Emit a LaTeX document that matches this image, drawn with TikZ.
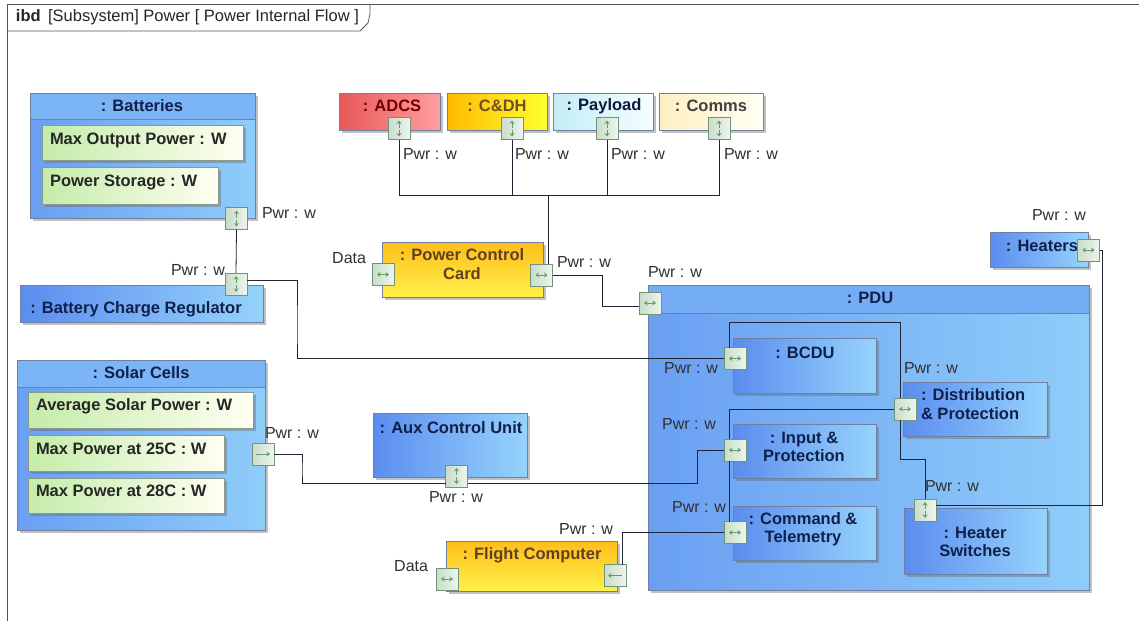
\documentclass[tikz,border=0pt]{standalone}
\usepackage{fontspec}
\setmainfont{Liberation Sans}
\usetikzlibrary{shadows,arrows.meta,calc}
\definecolor{blueL}{HTML}{5B8DEF}
\definecolor{blueR}{HTML}{96D3FC}
\definecolor{contL}{HTML}{6A9FF2}
\definecolor{contR}{HTML}{8FCDFA}
\definecolor{hdrc}{HTML}{7BB5F6}
\definecolor{bordc}{HTML}{6F7F9F}
\definecolor{navyc}{HTML}{10204A}
\definecolor{lblc}{HTML}{303030}
\definecolor{wirec}{HTML}{1E2535}
\definecolor{portd}{HTML}{6F9478}
\definecolor{portL}{HTML}{C9DCC9}
\definecolor{portR}{HTML}{EEF5EE}
\definecolor{iconc}{HTML}{5F9F6A}
\definecolor{propL}{HTML}{C4ECAA}
\definecolor{propR}{HTML}{FFFFF2}
\definecolor{propd}{HTML}{8A9A8A}
\definecolor{adcsL}{HTML}{E85858}
\definecolor{adcsR}{HTML}{FF9E9E}
\definecolor{cdhL}{HTML}{FFBB00}
\definecolor{cdhR}{HTML}{FFFF30}
\definecolor{payL}{HTML}{C4ECF6}
\definecolor{payR}{HTML}{F6FFFF}
\definecolor{comL}{HTML}{FFEFC0}
\definecolor{comR}{HTML}{FFFFF6}
\definecolor{ylwT}{HTML}{FFBE1A}
\definecolor{ylwB}{HTML}{FFF04A}
\definecolor{framec}{HTML}{555555}
\newcommand\hicon[1]{\draw[picon,{Stealth[length=3.5pt,width=5pt]}-{Stealth[length=3.5pt,width=5pt]}] ([xshift=-6pt]#1.center) -- ([xshift=6pt]#1.center);}
\newcommand\vicon[1]{\draw[picon,-{Stealth[length=3.5pt,width=5pt]}] ([yshift=1pt]#1.center) -- ([yshift=8pt]#1.center);\draw[picon,-{Stealth[length=3.5pt,width=5pt]}] ([yshift=-1pt]#1.center) -- ([yshift=-8pt]#1.center);}
\newcommand\ricon[1]{\draw[picon,-{Stealth[length=3.5pt,width=5pt]}] ([xshift=-7pt]#1.center) -- ([xshift=7pt]#1.center);}
\newcommand\licon[1]{\draw[picon,-{Stealth[length=3.5pt,width=5pt]}] ([xshift=7pt]#1.center) -- ([xshift=-7pt]#1.center);}
\begin{document}
\begin{tikzpicture}[x=1pt,y=-1pt,
  every node/.style={inner sep=0pt,outer sep=0pt},
  shad/.style={drop shadow={shadow xshift=3pt,shadow yshift=-3pt,fill=black!60,opacity=0.4}},
  basebox/.style={shad,draw=bordc,line width=0.6pt,anchor=north west},
  partbox/.style={basebox,left color=blueL,right color=blueR},
  cont/.style={basebox,left color=contL,right color=contR},
  prop/.style={basebox,draw=propd,left color=propL,right color=propR},
  port/.style={draw=portd,line width=0.7pt,left color=portL,right color=portR,minimum width=22,minimum height=22,anchor=center},
  picon/.style={draw=iconc,line width=0.9pt},
  ttl/.style={font=\fontsize{16.5}{18.5}\selectfont\bfseries,text=navyc,align=center},
  ptxt/.style={font=\fontsize{16.5}{18.5}\selectfont\bfseries,text=black!85,anchor=west},
  lbl/.style={font=\fontsize{16}{18}\selectfont,text=lblc},
  wire/.style={draw=wirec,line width=0.8pt},
]
\useasboundingbox (0,0) rectangle (1139,621);
\fill[white] (0,0) rectangle (1139,621);
% frame
\draw[framec,line width=0.8pt] (7,621) -- (7,4) -- (1139,4);
\draw[framec,line width=0.8pt] (7,31) -- (360,31) -- (368,23) -- (370,14) -- (370,4);
\node[anchor=west,font=\fontsize{16.5}{19}\selectfont,text=black!85] (title) at (16,17) {\textbf{ibd}\, [Subsystem] Power [ Power Internal Flow ]};

% Batteries
\node[cont,minimum width=225,minimum height=125] (bat) at (30,93) {};
\path[fill=hdrc,draw=bordc,line width=0.6pt] (30,93) rectangle (255,119);
\node[ttl] (batt) at (142,106) {: Batteries};
\node[prop,minimum width=201,minimum height=35] (mop) at (42,125) {};
\node[ptxt] (mopt) at (50,140) {Max Output Power : W};
\node[prop,minimum width=176,minimum height=37] (pst) at (42,167) {};
\node[ptxt] (pstt) at (50,182) {Power Storage : W};

% Battery Charge Regulator
\node[partbox,minimum width=243,minimum height=37] (bcr) at (20,285) {};
\node[ttl] (bcrt) at (136,309) {: Battery Charge Regulator};

% Solar cells
\node[cont,minimum width=248,minimum height=170] (sol) at (17,360) {};
\path[fill=hdrc,draw=bordc,line width=0.6pt] (17,360) rectangle (265,387);
\node[ttl] (solt) at (141,373) {: Solar Cells};
\node[prop,minimum width=225,minimum height=36] (asp) at (28,392) {};
\node[ptxt] (aspt) at (36,406) {Average Solar Power : W};
\node[prop,minimum width=196,minimum height=36] (mp25) at (28,435) {};
\node[ptxt] (mp25t) at (36,449) {Max Power at 25C : W};
\node[prop,minimum width=196,minimum height=35] (mp28) at (28,478) {};
\node[ptxt] (mp28t) at (36,491) {Max Power at 28C : W};

% top subsystems
\node[basebox,left color=adcsL,right color=adcsR,minimum width=101,minimum height=37] (adcs) at (339,93) {};
\node[ttl,text=red!45!black] (adcst) at (392,106) {: ADCS};
\node[basebox,left color=cdhL,right color=cdhR,minimum width=100,minimum height=37] (cdh) at (447,93) {};
\node[ttl,text=brown!60!black] (cdht) at (497,106) {: C\&DH};
\node[basebox,left color=payL,right color=payR,minimum width=100,minimum height=37] (pay) at (553,93) {};
\node[ttl,text=navyc!80!black] (payt) at (604,106) {: Payload};
\node[basebox,left color=comL,right color=comR,minimum width=104,minimum height=37] (com) at (659,93) {};
\node[ttl,text=black!75] (comt) at (711,106) {: Comms};

% Power Control Card
\node[basebox,top color=ylwT,bottom color=ylwB,minimum width=161,minimum height=55] (pcc) at (382,242) {};
\node[ttl,text=brown!50!black] (pcct) at (462,264) {: Power Control\\Card};

% Aux control unit
\node[partbox,minimum width=154,minimum height=64] (aux) at (373,413) {};
\node[ttl] (auxt) at (451,428) {: Aux Control Unit};

% Flight computer
\node[basebox,top color=ylwT,bottom color=ylwB,minimum width=171,minimum height=50] (fc) at (446,541) {};
\node[ttl,text=brown!50!black] (fct) at (532,555) {: Flight Computer};

% Heaters
\node[partbox,minimum width=98,minimum height=35] (heat) at (990,232) {};
\node[ttl] (heatt) at (1042,246) {: Heaters};

% PDU
\node[cont,minimum width=441,minimum height=305] (pdu) at (648,285) {};
\path[fill=contL!70!contR,draw=bordc,line width=0.6pt] (648,285) rectangle (1089,313);
\node[ttl] (pdut) at (870,298) {: PDU};
\node[partbox,minimum width=143,minimum height=55] (bcdu) at (733,338) {};
\node[ttl] (bcdut) at (805,353) {: BCDU};
\node[partbox,minimum width=144,minimum height=54] (dist) at (903,382) {};
\node[ttl,align=left,anchor=west] (distt) at (921,404) {: Distribution\\\& Protection};
\node[partbox,minimum width=143,minimum height=54] (inpr) at (733,424) {};
\node[ttl] (inprt) at (804,447) {: Input \&\\Protection};
\node[partbox,minimum width=143,minimum height=54] (cmd) at (733,506) {};
\node[ttl] (cmdt) at (803,529) {: Command \&\\Telemetry};
\node[partbox,minimum width=143,minimum height=66] (hs) at (904,508) {};
\node[ttl] (hst) at (975,542) {: Heater\\Switches};

% ports
\coordinate (bus) at (548,195);
\node[port] (batp) at (236.5,218.5) {};
\node[port] (bcrp) at (236,284) {};
\node[port] (adcsp) at (399,128.5) {};
\node[port] (cdhp) at (512,128.5) {};
\node[port] (payp) at (607,128.5) {};
\node[port] (comp) at (719,128.5) {};
\node[port] (pccl) at (383,274.5) {};
\node[port] (pccr) at (541.5,275) {};
\node[port] (pdup) at (650,303) {};
\node[port] (bcdup) at (735,358.5) {};
\node[port] (distp) at (905,409) {};
\node[port] (inp) at (735,450) {};
\node[port] (cmdp) at (735,532.5) {};
\node[port] (hsp) at (925,510) {};
\node[port] (heatp) at (1088.5,250) {};
\node[port] (solp) at (263,454) {};
\node[port] (auxp) at (456.5,476) {};
\node[port] (fcl) at (447,579) {};
\node[port] (fcr) at (615,575.5) {};

% wires
\draw[wire] (batp.south) -- (bcrp.north);
\draw[wire] ([yshift=4pt]bcrp.east) -| (297,330) |- (bcdup.west);
\draw[wire] (adcsp.south) |- (bus);
\draw[wire] (cdhp.south) -- (cdhp.south |- bus);
\draw[wire] (payp.south) -- (payp.south |- bus);
\draw[wire] (comp.south) |- (bus);
\draw[wire] (bus) -- ([xshift=6.5pt]pccr.north);
\draw[wire] (pccr.east) -| (602,290) |- ([yshift=-3pt]pdup.west);
\draw[wire] ([xshift=-6pt]bcdup.north) -- ++(0,-25) -| ([xshift=-5pt]distp.north);
\draw[wire] ([xshift=-5pt]distp.south) -- ++(0,39) -| (hsp.north);
\draw[wire] (distp.west) -| ([xshift=-6pt]inp.north);
\draw[wire] ([xshift=-6pt]inp.south) -- ([xshift=-6pt]cmdp.north);
\draw[wire] (solp.east) -| (302,470) |- ([yshift=-7pt]auxp.west);
\draw[wire] ([yshift=-7pt]auxp.east) -| (697,460) |- (inp.west);
\draw[wire] (cmdp.west) -| ([xshift=7pt]fcr.north);
\draw[wire] (heatp.east) -- ++(3,0) |- ([yshift=5pt]hsp.east);

% port icons
\vicon{batp}\vicon{bcrp}\vicon{adcsp}\vicon{cdhp}\vicon{payp}\vicon{comp}\vicon{hsp}\vicon{auxp}
\hicon{pccl}\hicon{pccr}\hicon{pdup}\hicon{bcdup}\hicon{distp}\hicon{inp}\hicon{cmdp}\hicon{heatp}\hicon{fcl}
\ricon{solp}\licon{fcr}

% labels
\node[lbl,anchor=west] (l1) at (262,213) {Pwr : w};
\node[lbl,anchor=east] (l2) at (225,270) {Pwr : w};
\node[lbl,anchor=west] (l3) at (403,154) {Pwr : w};
\node[lbl,anchor=west] (l4) at (515,154) {Pwr : w};
\node[lbl,anchor=west] (l5) at (611,154) {Pwr : w};
\node[lbl,anchor=west] (l6) at (724,154) {Pwr : w};
\node[lbl,anchor=east] (l7) at (366,258) {Data};
\node[lbl,anchor=west] (l8) at (557,262) {Pwr : w};
\node[lbl,anchor=west] (l9) at (648,272) {Pwr : w};
\node[lbl,anchor=east] (l10) at (718,368) {Pwr : w};
\node[lbl,anchor=west] (l11) at (904,368) {Pwr : w};
\node[lbl,anchor=east] (l12) at (716,424) {Pwr : w};
\node[lbl,anchor=east] (l13) at (726,507) {Pwr : w};
\node[lbl,anchor=west] (l14) at (925,486) {Pwr : w};
\node[lbl] (l15) at (1059,215) {Pwr : w};
\node[lbl,anchor=west] (l16) at (265,433) {Pwr : w};
\node[lbl] (l17) at (456,497) {Pwr : w};
\node[lbl,anchor=east] (l18) at (428,566) {Data};
\node[lbl,anchor=east] (l19) at (613,529) {Pwr : w};
\end{tikzpicture}
\end{document}
